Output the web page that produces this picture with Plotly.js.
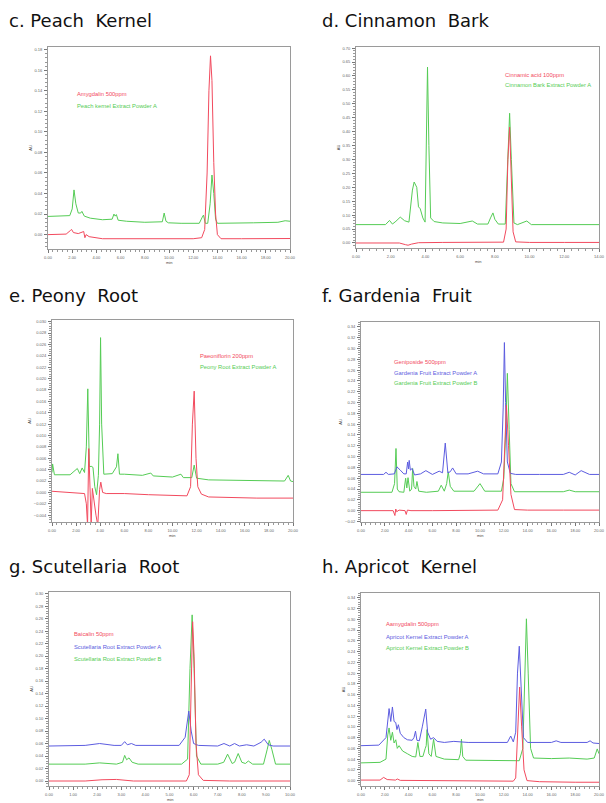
<!DOCTYPE html>
<html>
<head>
<meta charset="utf-8">
<script src="https://cdn.plot.ly/plotly-3.0.1.min.js"></script>
<style>
html,body{margin:0;padding:0;background:#fff;}
#chart{width:606px;height:803px;}
</style>
</head>
<body>
<div id="chart"></div>
<script>
// ---------------- Titles & legend labels ----------------
const PANEL_TITLES = ['c.\u00a0Peach\u00a0\u00a0Kernel', 'd.\u00a0Cinnamon\u00a0\u00a0Bark', 'e.\u00a0Peony\u00a0\u00a0Root',
  'f.\u00a0Gardenia\u00a0\u00a0Fruit', 'g.\u00a0Scutellaria\u00a0\u00a0Root', 'h.\u00a0Apricot\u00a0\u00a0Kernel'];
const LABELS_C = ['Amygdalin 500ppm', 'Peach kernel Extract Powder A'];
const LABELS_D = ['Cinnamic acid 100ppm', 'Cinnamon Bark Extract Powder A'];
const LABELS_E = ['Paeoniflorin 200ppm', 'Peony Root Extract Powder A'];
const LABELS_F = ['Geniposide 500ppm', 'Gardenia Fruit Extract Powder A', 'Gardenia Fruit Extract Powder B'];
const LABELS_G = ['Baicalin 50ppm', 'Scutellaria Root Extract Powder A', 'Scutellaria Root Extract Powder B'];
const LABELS_H = ['Aamygdalin 500ppm', 'Apricot Kernel Extract Powder A', 'Apricot Kernel Extract Powder B'];
const Y_TITLE = 'AU';
const X_TITLE = 'min';

// ---------------- c. Peach Kernel ----------------
const C_STD_T = [0, 1.5, 1.85, 1.95, 2.1, 2.5, 2.95, 3.05, 3.15, 3.4, 4.5, 6, 8, 10, 12, 12.7, 12.95, 13.15, 13.3, 13.43, 13.55, 13.7, 13.85, 14.0, 14.3, 16, 18, 20];
const C_STD_AU = [0.000, 0.0005, 0.004, 0.005, 0.002, 0.001, 0.003, -0.003, 0.000, -0.002, -0.004, -0.004, -0.004, -0.0045, -0.004, -0.003, 0.005, 0.06, 0.14, 0.174, 0.15, 0.07, 0.02, 0.000, -0.004, -0.004, -0.004, -0.0038];
const C_A_T = [0, 1.8, 2.0, 2.15, 2.3, 2.5, 2.7, 2.8, 3.0, 3.5, 4.5, 5.3, 5.45, 5.55, 5.65, 5.8, 6.5, 8, 9.45, 9.6, 9.75, 9.95, 11, 12.5, 12.75, 12.85, 13.0, 13.2, 13.4, 13.55, 13.7, 13.85, 14.0, 15, 17, 19, 19.6, 20];
const C_A_AU = [0.0177, 0.0185, 0.025, 0.0435, 0.030, 0.021, 0.021, 0.0226, 0.018, 0.016, 0.0145, 0.015, 0.020, 0.018, 0.0195, 0.014, 0.013, 0.012, 0.0125, 0.021, 0.013, 0.0115, 0.011, 0.011, 0.017, 0.019, 0.011, 0.011, 0.030, 0.058, 0.040, 0.015, 0.011, 0.011, 0.0115, 0.012, 0.0135, 0.013];

// ---------------- d. Cinnamon Bark ----------------
const D_STD_T = [0, 2.5, 2.85, 3.0, 3.2, 3.6, 5, 7, 8.5, 8.65, 8.75, 8.85, 8.95, 9.05, 9.2, 10, 12, 14];
const D_STD_AU = [0.0, 0.0, -0.006, -0.008, -0.004, 0.001, 0.002, 0.002, 0.003, 0.05, 0.30, 0.416, 0.25, 0.04, 0.004, 0.002, 0.002, 0.002];
const D_A_T = [0, 1.7, 1.93, 2.1, 2.3, 2.55, 2.8, 3.05, 3.25, 3.35, 3.5, 3.6, 3.7, 3.85, 3.98, 4.05, 4.12, 4.2, 4.3, 4.5, 5.0, 6.0, 6.7, 7.0, 7.6, 7.75, 7.89, 8.0, 8.2, 8.6, 8.75, 8.85, 8.95, 9.1, 9.3, 9.84, 10.1, 11, 12.5, 14];
const D_A_AU = [0.066, 0.066, 0.081, 0.068, 0.078, 0.093, 0.08, 0.075, 0.19, 0.219, 0.20, 0.13, 0.123, 0.09, 0.075, 0.3, 0.632, 0.35, 0.09, 0.077, 0.072, 0.070, 0.079, 0.068, 0.068, 0.09, 0.108, 0.085, 0.068, 0.068, 0.3, 0.466, 0.3, 0.072, 0.066, 0.079, 0.066, 0.066, 0.066, 0.066];

// ---------------- e. Peony Root ----------------
const E_STD_T = [0, 1.5, 2.7, 2.85, 2.95, 3.05, 3.15, 3.25, 3.35, 3.5, 3.65, 3.8, 3.95, 4.05, 4.2, 4.5, 6, 8, 10, 11.2, 11.5, 11.65, 11.8, 11.95, 12.1, 12.4, 13, 15, 17, 20];
const E_STD_AU = [0.0002, 0.0, -0.0002, -0.002, -0.0058, 0.0077, 0.002, -0.0055, 0.0007, -0.002, -0.004, -0.0058, 0.0005, 0.0018, 0.0, -0.0002, -0.0002, -0.0004, -0.0006, -0.0006, 0.001, 0.012, 0.0178, 0.006, 0.001, -0.0003, -0.0008, -0.0009, -0.001, -0.001];
const E_A_T = [0, 0.05, 0.2, 1.5, 2.1, 2.3, 2.5, 2.7, 2.85, 2.97, 3.1, 3.25, 3.4, 3.55, 3.7, 3.85, 3.95, 4.03, 4.12, 4.3, 5.0, 5.35, 5.47, 5.6, 6.0, 7.5, 8.2, 8.4, 10, 10.7, 10.9, 11.6, 11.8, 12.0, 13, 15, 17, 19.3, 19.6, 19.8, 20];
const E_A_AU = [0.0035, 0.005, 0.0031, 0.0031, 0.0042, 0.0033, 0.0043, 0.0035, 0.008, 0.0182, 0.0045, 0.0046, 0.0044, 0.001, -0.0004, 0.003, 0.012, 0.0272, 0.012, 0.0032, 0.0033, 0.0045, 0.0068, 0.0032, 0.0032, 0.003, 0.0034, 0.0029, 0.0027, 0.0032, 0.0026, 0.0026, 0.0048, 0.0025, 0.0022, 0.0021, 0.002, 0.002, 0.003, 0.002, 0.0019];

// ---------------- f. Gardenia Fruit ----------------
const F_STD_T = [0, 2.7, 2.85, 2.92, 3.0, 3.2, 3.7, 3.8, 3.9, 4.2, 6, 9, 11.5, 11.9, 12.05, 12.22, 12.4, 12.6, 12.9, 14, 17, 20];
const F_STD_AU = [0.0, 0.0, -0.009, 0.003, -0.002, 0.001, 0.0, -0.007, 0.001, 0.0, 0.0, 0.0, 0.001, 0.02, 0.12, 0.195, 0.12, 0.03, 0.002, 0.001, 0.001, 0.001];
const F_A_T = [0, 1.9, 2.1, 2.3, 2.8, 3.02, 3.3, 3.6, 3.8, 3.92, 4.0, 4.05, 4.15, 4.3, 4.5, 5.0, 5.45, 6.0, 6.57, 6.85, 7.08, 7.3, 7.5, 7.7, 8.0, 9.0, 9.8, 10.3, 11.5, 11.8, 11.95, 12.05, 12.15, 12.3, 12.55, 13, 15, 17, 17.5, 18, 18.5, 19.2, 20];
const F_A_AU = [0.067, 0.067, 0.071, 0.067, 0.068, 0.081, 0.075, 0.068, 0.068, 0.09, 0.077, 0.093, 0.075, 0.078, 0.066, 0.068, 0.074, 0.067, 0.073, 0.07, 0.125, 0.07, 0.072, 0.079, 0.068, 0.068, 0.073, 0.068, 0.068, 0.09, 0.19, 0.311, 0.2, 0.09, 0.069, 0.067, 0.067, 0.067, 0.071, 0.066, 0.074, 0.067, 0.067];
const F_B_T = [0, 2.6, 2.82, 2.94, 3.05, 3.2, 3.6, 3.75, 3.85, 3.95, 4.1, 4.25, 4.34, 4.45, 4.6, 4.7, 4.85, 5.5, 6.5, 6.74, 7.0, 7.2, 7.33, 7.5, 7.8, 9.5, 10.0, 10.4, 11.8, 12.0, 12.15, 12.3, 12.45, 12.6, 12.9, 14, 17, 17.5, 18, 20];
const F_B_AU = [0.034, 0.034, 0.05, 0.115, 0.04, 0.035, 0.034, 0.06, 0.042, 0.061, 0.036, 0.04, 0.078, 0.045, 0.04, 0.054, 0.036, 0.034, 0.036, 0.047, 0.036, 0.05, 0.072, 0.045, 0.036, 0.036, 0.05, 0.036, 0.036, 0.06, 0.14, 0.254, 0.15, 0.05, 0.035, 0.035, 0.035, 0.038, 0.035, 0.035];

// ---------------- g. Scutellaria Root ----------------
const G_STD_T = [0, 1.5, 2.2, 2.8, 3.5, 5, 5.7, 5.82, 5.9, 5.96, 6.02, 6.1, 6.2, 6.4, 7.5, 9, 10];
const G_STD_AU = [0.0, 0.0, 0.002, 0.0025, 0.0, 0.0, 0.0, 0.01, 0.16, 0.255, 0.2, 0.06, 0.01, 0.001, 0.0, 0.0, 0.0];
const G_A_T = [0, 1.5, 2.1, 2.7, 3.0, 3.14, 3.25, 3.42, 3.6, 5.4, 5.65, 5.8, 5.9, 6.0, 6.2, 7.0, 7.26, 7.5, 7.7, 7.9, 8.2, 8.5, 8.8, 8.93, 9.1, 9.3, 10];
const G_A_AU = [0.056, 0.057, 0.06, 0.057, 0.057, 0.063, 0.058, 0.06, 0.057, 0.057, 0.07, 0.112, 0.08, 0.06, 0.057, 0.056, 0.06, 0.056, 0.06, 0.056, 0.058, 0.056, 0.062, 0.067, 0.058, 0.056, 0.056];
const G_B_T = [0, 1.5, 2.1, 2.8, 3.05, 3.14, 3.22, 3.32, 3.45, 3.7, 5.5, 5.75, 5.85, 5.94, 6.02, 6.12, 6.3, 7.0, 7.25, 7.41, 7.6, 7.7, 7.85, 8.0, 8.15, 8.27, 8.45, 8.9, 9.05, 9.14, 9.25, 9.4, 10];
const G_B_AU = [0.027, 0.027, 0.029, 0.027, 0.03, 0.041, 0.034, 0.037, 0.03, 0.027, 0.027, 0.035, 0.18, 0.266, 0.18, 0.04, 0.027, 0.027, 0.03, 0.043, 0.028, 0.03, 0.044, 0.03, 0.028, 0.032, 0.027, 0.027, 0.05, 0.065, 0.05, 0.027, 0.027];

// ---------------- h. Apricot Kernel ----------------
const H_STD_T = [0, 1.6, 1.9, 2.2, 2.9, 3.05, 3.3, 6, 10, 12.8, 13.0, 13.15, 13.33, 13.5, 13.7, 13.95, 15, 18, 20];
const H_STD_AU = [0.001, 0.001, 0.006, 0.002, 0.001, 0.003, 0.0005, 0.0, -0.001, -0.001, 0.005, 0.09, 0.174, 0.1, 0.02, 0.0, -0.002, -0.003, -0.003];
const H_A_T = [0, 1.5, 2.1, 2.25, 2.36, 2.5, 2.64, 2.78, 2.92, 3.02, 3.14, 3.3, 3.6, 3.9, 4.3, 4.45, 4.58, 4.7, 4.9, 5.15, 5.33, 5.44, 5.6, 5.85, 6.1, 6.4, 7, 7.8, 9, 11, 12.3, 12.58, 12.8, 13.0, 13.15, 13.3, 13.45, 13.65, 14.0, 16, 16.4, 16.8, 19.0, 19.25, 19.5, 20];
const H_A_AU = [0.065, 0.066, 0.08, 0.12, 0.134, 0.11, 0.137, 0.11, 0.108, 0.095, 0.104, 0.088, 0.08, 0.076, 0.075, 0.08, 0.092, 0.075, 0.074, 0.1, 0.12, 0.133, 0.09, 0.077, 0.08, 0.073, 0.071, 0.073, 0.071, 0.071, 0.071, 0.083, 0.072, 0.09, 0.2, 0.25, 0.17, 0.08, 0.071, 0.071, 0.074, 0.071, 0.071, 0.074, 0.070, 0.069];
const H_B_T = [0, 1.6, 2.1, 2.25, 2.36, 2.5, 2.64, 2.78, 2.92, 3.05, 3.2, 3.5, 3.9, 4.3, 4.6, 4.78, 4.95, 5.2, 5.4, 5.48, 5.55, 5.7, 5.9, 6.1, 6.3, 7, 8.2, 8.35, 8.44, 8.55, 8.8, 10, 12, 13.3, 13.6, 13.75, 13.9, 14.05, 14.25, 14.5, 16, 17.5, 19, 19.6, 19.85, 20];
const H_B_AU = [0.033, 0.034, 0.04, 0.085, 0.098, 0.075, 0.09, 0.07, 0.076, 0.06, 0.065, 0.055, 0.05, 0.045, 0.044, 0.071, 0.045, 0.045, 0.06, 0.065, 0.095, 0.05, 0.045, 0.077, 0.045, 0.04, 0.039, 0.05, 0.077, 0.045, 0.038, 0.038, 0.037, 0.037, 0.06, 0.2, 0.301, 0.2, 0.06, 0.042, 0.041, 0.042, 0.040, 0.042, 0.059, 0.05];

// ---------------- styling ----------------
const RED = '#f24a5e', BLUE = '#5c5ce0', GREEN = '#55cc55';
const W = 606, H = 803;

// panel boxes in pixels: [left, right, top, bottom]
const BOXES = [[48, 290, 47, 249], [356, 599, 47, 248], [52, 293, 320, 522], [361, 599, 322, 522], [49, 290, 592, 786], [361, 599, 593, 786]];
const XR = [[0, 20], [0, 14], [0, 20], [0, 20], [0, 10], [0, 20]];
const YR = [[-0.014, 0.1826], [-0.018, 0.704], [-0.0052, 0.0303], [-0.021, 0.349], [-0.008, 0.3026], [-0.01, 0.349]];
const XD = [2, 2, 2, 2, 1, 2];
const YD = [0.02, 0.05, 0.002, 0.02, 0.02, 0.02];
const YF = ['.2f', '.2f', '.3f', '.2f', '.2f', '.2f'];
const TITLE_POS = [[7, 21], [320, 21], [7, 295], [320, 295], [7, 566], [320, 566]];

const SERIES = [
  [[C_A_T, C_A_AU, GREEN], [C_STD_T, C_STD_AU, RED]],
  [[D_A_T, D_A_AU, GREEN], [D_STD_T, D_STD_AU, RED]],
  [[E_A_T, E_A_AU, GREEN], [E_STD_T, E_STD_AU, RED]],
  [[F_B_T, F_B_AU, GREEN], [F_A_T, F_A_AU, BLUE], [F_STD_T, F_STD_AU, RED]],
  [[G_B_T, G_B_AU, GREEN], [G_A_T, G_A_AU, BLUE], [G_STD_T, G_STD_AU, RED]],
  [[H_B_T, H_B_AU, GREEN], [H_A_T, H_A_AU, BLUE], [H_STD_T, H_STD_AU, RED]]
];

const LEGENDS = [
  [LABELS_C, [RED, GREEN], [[75, 94], [75, 106]]],
  [LABELS_D, [RED, GREEN], [[503, 75], [503, 85]]],
  [LABELS_E, [RED, GREEN], [[198, 356], [198, 367]]],
  [LABELS_F, [RED, BLUE, GREEN], [[392, 362], [392, 373], [392, 383]]],
  [LABELS_G, [RED, BLUE, GREEN], [[72, 634], [72, 647], [72, 659]]],
  [LABELS_H, [RED, BLUE, GREEN], [[384, 624], [384, 637], [384, 648]]]
];

const data = [];
const layout = {
  width: W, height: H,
  margin: {l: 0, r: 0, t: 0, b: 0},
  paper_bgcolor: '#fff', plot_bgcolor: '#fff',
  showlegend: false,
  font: {family: 'Liberation Sans, Arial, sans-serif', color: '#555'},
  annotations: []
};

for (let i = 0; i < 6; i++) {
  const n = i === 0 ? '' : String(i + 1);
  const [l, r, t, b] = BOXES[i];
  SERIES[i].forEach(([x, y, c]) => {
    data.push({x: x, y: y, type: 'scatter', mode: 'lines', xaxis: 'x' + n, yaxis: 'y' + n,
      line: {color: c, width: 1}, hoverinfo: 'skip'});
  });
  const common = {
    showgrid: false, zeroline: false, showline: true, mirror: true, linecolor: '#9a9a9a', linewidth: 1,
    ticks: 'outside', ticklen: 3, tickcolor: '#777', tickwidth: 1,
    tickfont: {size: 4, color: '#666', family: 'Liberation Sans, Arial, sans-serif'},
    fixedrange: true
  };
  layout['xaxis' + n] = Object.assign({}, common, {
    domain: [l / W, r / W], range: XR[i], anchor: 'y' + n, dtick: XD[i], tick0: 0,
    tickformat: '.2f', ticklabelstandoff: 1,
    minor: {ticks: 'outside', ticklen: 2, tickcolor: '#999', dtick: XD[i] / 5}
  });
  layout['yaxis' + n] = Object.assign({}, common, {
    domain: [1 - b / H, 1 - t / H], range: YR[i], anchor: 'x' + n, dtick: YD[i], tick0: 0,
    tickformat: YF[i], ticklabelstandoff: 1,
    minor: {ticks: 'outside', ticklen: 2, tickcolor: '#999', dtick: YD[i] / 5},
    title: {text: Y_TITLE, font: {size: 4, color: '#444'}, standoff: 2}
  });
  // x-axis unit label placed just under the tick labels
  layout.annotations.push({
    xref: 'paper', yref: 'paper', x: (l + r) / 2 / W, y: 1 - (b + 13) / H,
    xanchor: 'center', yanchor: 'middle', showarrow: false, text: X_TITLE,
    font: {size: 4, color: '#444', family: 'Liberation Sans, Arial, sans-serif'}
  });
  layout.annotations.push({
    xref: 'paper', yref: 'paper', x: TITLE_POS[i][0] / W, y: 1 - TITLE_POS[i][1] / H,
    xanchor: 'left', yanchor: 'middle', showarrow: false, text: PANEL_TITLES[i],
    font: {family: 'DejaVu Sans, Verdana, sans-serif', size: 18, color: '#111'}
  });
  const [labels, cols, pos] = LEGENDS[i];
  labels.forEach((txt, k) => {
    layout.annotations.push({
      xref: 'paper', yref: 'paper', x: pos[k][0] / W, y: 1 - pos[k][1] / H,
      xanchor: 'left', yanchor: 'middle', showarrow: false, text: txt,
      font: {family: 'Liberation Sans, Arial, sans-serif', size: 5.8, color: cols[k]}
    });
  });
}

Plotly.newPlot('chart', data, layout, {staticPlot: true, displayModeBar: false});
</script>
</body>
</html>
